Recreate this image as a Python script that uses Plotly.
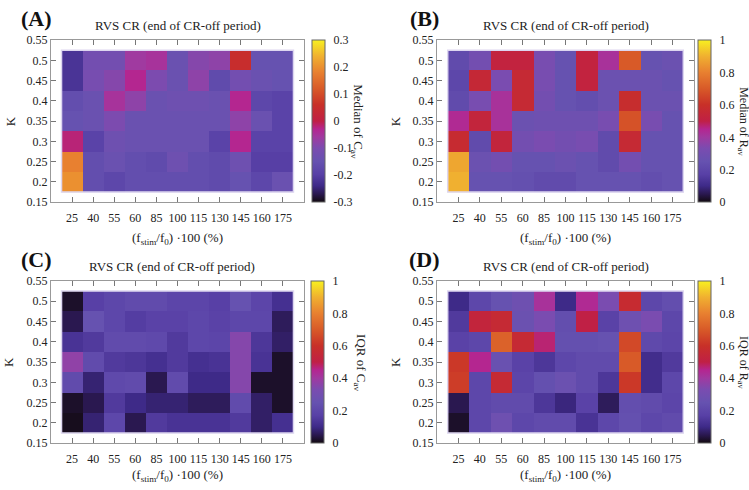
import plotly.graph_objects as go

freq_labels = ["25", "40", "55", "60", "85", "100", "115", "130", "145", "160", "175"]
k_values = [0.5, 0.45, 0.4, 0.35, 0.3, 0.25, 0.2]  # rows top -> bottom
k_ticks = [0.15, 0.2, 0.25, 0.3, 0.35, 0.4, 0.45, 0.5, 0.55]
k_tick_text = ["0.15", "0.2", "0.25", "0.3", "0.35", "0.4", "0.45", "0.5", "0.55"]

# Panel A: median of C_av (rows top -> bottom)
median_c = [
    [-0.22, -0.12, -0.12, -0.06, -0.05, -0.14, -0.09, -0.08, 0.05, -0.15, -0.15],
    [-0.22, -0.11, -0.09, -0.03, -0.10, -0.14, -0.08, -0.17, -0.12, -0.14, -0.15],
    [-0.16, -0.14, -0.05, -0.08, -0.14, -0.13, -0.13, -0.14, -0.03, -0.18, -0.19],
    [-0.15, -0.14, -0.10, -0.14, -0.14, -0.14, -0.14, -0.14, -0.08, -0.14, -0.19],
    [-0.02, -0.19, -0.13, -0.14, -0.14, -0.14, -0.14, -0.19, -0.03, -0.19, -0.19],
    [0.18, -0.16, -0.14, -0.16, -0.17, -0.13, -0.16, -0.17, -0.13, -0.20, -0.20],
    [0.20, -0.16, -0.18, -0.16, -0.16, -0.16, -0.16, -0.17, -0.15, -0.18, -0.14],
]
# Panel B: median of R_av
median_r = [
    [0.22, 0.30, 0.52, 0.52, 0.32, 0.25, 0.52, 0.42, 0.70, 0.25, 0.27],
    [0.20, 0.55, 0.33, 0.56, 0.32, 0.25, 0.52, 0.27, 0.27, 0.27, 0.25],
    [0.22, 0.32, 0.42, 0.56, 0.30, 0.25, 0.23, 0.27, 0.58, 0.27, 0.27],
    [0.44, 0.53, 0.42, 0.27, 0.28, 0.28, 0.28, 0.32, 0.68, 0.32, 0.25],
    [0.57, 0.22, 0.53, 0.30, 0.33, 0.30, 0.32, 0.22, 0.56, 0.25, 0.25],
    [0.88, 0.27, 0.30, 0.25, 0.25, 0.27, 0.25, 0.22, 0.30, 0.25, 0.25],
    [0.90, 0.25, 0.25, 0.24, 0.22, 0.22, 0.25, 0.25, 0.25, 0.23, 0.25],
]
# Panel C: IQR of C_av
iqr_c = [
    [0.02, 0.17, 0.20, 0.22, 0.22, 0.19, 0.19, 0.17, 0.25, 0.19, 0.12],
    [0.05, 0.25, 0.20, 0.16, 0.18, 0.18, 0.20, 0.18, 0.20, 0.20, 0.06],
    [0.13, 0.15, 0.22, 0.22, 0.21, 0.15, 0.20, 0.19, 0.35, 0.14, 0.07],
    [0.37, 0.22, 0.15, 0.14, 0.12, 0.15, 0.12, 0.13, 0.35, 0.13, 0.02],
    [0.22, 0.08, 0.21, 0.22, 0.05, 0.22, 0.10, 0.10, 0.35, 0.02, 0.02],
    [0.02, 0.05, 0.15, 0.10, 0.08, 0.08, 0.06, 0.06, 0.22, 0.07, 0.02],
    [0.01, 0.08, 0.20, 0.05, 0.15, 0.13, 0.13, 0.13, 0.15, 0.07, 0.12],
]
# Panel D: IQR of R_av
iqr_r = [
    [0.10, 0.20, 0.25, 0.28, 0.42, 0.10, 0.44, 0.33, 0.57, 0.20, 0.23],
    [0.15, 0.53, 0.56, 0.27, 0.33, 0.23, 0.50, 0.18, 0.28, 0.33, 0.20],
    [0.18, 0.20, 0.72, 0.56, 0.47, 0.24, 0.24, 0.25, 0.66, 0.21, 0.19],
    [0.62, 0.45, 0.26, 0.18, 0.14, 0.20, 0.22, 0.22, 0.70, 0.11, 0.15],
    [0.63, 0.20, 0.56, 0.19, 0.24, 0.27, 0.22, 0.14, 0.62, 0.11, 0.20],
    [0.05, 0.20, 0.22, 0.22, 0.14, 0.09, 0.18, 0.06, 0.23, 0.22, 0.19],
    [0.02, 0.20, 0.28, 0.20, 0.22, 0.22, 0.13, 0.20, 0.24, 0.20, 0.22],
]

cbar_c_ticks = [-0.3, -0.2, -0.1, 0, 0.1, 0.2, 0.3]
cbar_c_text = ["-0.3", "-0.2", "-0.1", "0", "0.1", "0.2", "0.3"]
cbar_r_ticks = [0, 0.2, 0.4, 0.6, 0.8, 1]
cbar_r_text = ["0", "0.2", "0.4", "0.6", "0.8", "1"]

panel_title = "RVS CR (end of CR-off period)"
x_title = "(f<sub>stim</sub>/f<sub>0</sub>) ·100 (%)"

palette = [
    [0.0, "#120a10"], [0.05, "#2a1850"], [0.10, "#3e2a88"], [0.17, "#5840a6"],
    [0.25, "#6652b0"], [0.33, "#7a4cb0"], [0.40, "#a03aa0"], [0.45, "#b42690"],
    [0.50, "#c02045"], [0.60, "#c83028"], [0.70, "#d85a28"], [0.80, "#e88030"],
    [0.90, "#f0b030"], [1.0, "#f8f020"],
]

W, H = 749, 490
FONT = "Liberation Serif, Times New Roman, serif"

panels = [
    dict(z=median_c, zmin=-0.3, zmax=0.3, ct=cbar_c_ticks, ctt=cbar_c_text,
         cbt="Median of C<sub>av</sub>", label="(A)", cbs=13,
         px=(51, 304), py=(34, 201), cbx=312, cbtx=358, lx=36, tx=178, ktx=10, xty=238),
    dict(z=median_r, zmin=0, zmax=1, ct=cbar_r_ticks, ctt=cbar_r_text,
         cbt="Median of R<sub>av</sub>", label="(B)", cbs=12,
         px=(437, 694), py=(34, 201), cbx=698, cbtx=743, lx=424, tx=566, ktx=395, xty=238),
    dict(z=iqr_c, zmin=0, zmax=1, ct=cbar_r_ticks, ctt=cbar_r_text,
         cbt="IQR of C<sub>av</sub>", label="(C)", cbs=13,
         px=(51, 304), py=(282, 449), cbx=311, cbtx=361, lx=36, tx=172, ktx=8, xty=482),
    dict(z=iqr_r, zmin=0, zmax=1, ct=cbar_r_ticks, ctt=cbar_r_text,
         cbt="IQR of R<sub>av</sub>", label="(D)", cbs=12,
         px=(437, 694), py=(282, 449), cbx=698, cbtx=743, lx=424, tx=566, ktx=395, xty=482),
]

fig = go.Figure()
annotations = []
shapes = []
nx = len(freq_labels)
x_idx = list(range(nx))
k_asc = k_values[::-1]

for i, p in enumerate(panels, start=1):
    xa = "x" if i == 1 else f"x{i}"
    ya = "y" if i == 1 else f"y{i}"
    z_asc = p["z"][::-1]
    y0 = 1 - p["py"][1] / H
    y1 = 1 - p["py"][0] / H
    fig.add_trace(go.Heatmap(
        x=x_idx, y=k_asc, z=z_asc, xaxis=xa, yaxis=ya,
        zmin=p["zmin"], zmax=p["zmax"], colorscale=palette, hoverinfo="skip",
        colorbar=dict(
            x=p["cbx"] / W, xanchor="left", xref="paper", xpad=0, ypad=0,
            y=(y0 + y1) / 2, yanchor="middle", len=(y1 - y0), lenmode="fraction",
            thickness=13, outlinewidth=1, outlinecolor="#666",
            tickvals=p["ct"], ticktext=p["ctt"], ticks="outside", ticklen=6,
            tickcolor="rgba(0,0,0,0)", tickfont=dict(family=FONT, size=12, color="#222"),
        ),
    ))
    axis_common = dict(showline=True, linecolor="#999", linewidth=1, mirror="allticks",
                       ticks="inside", ticklen=5, tickcolor="#777", showgrid=False,
                       zeroline=False, tickfont=dict(family=FONT, size=12, color="#222"))
    fig.update_layout(**{
        ("xaxis" if i == 1 else f"xaxis{i}"): dict(
            domain=[p["px"][0] / W, p["px"][1] / W], anchor=ya, range=[-1, nx],
            tickvals=x_idx, ticktext=freq_labels, ticklabelstandoff=4, **axis_common),
        ("yaxis" if i == 1 else f"yaxis{i}"): dict(
            domain=[y0, y1], anchor=xa, range=[0.15, 0.55],
            tickvals=k_ticks, ticktext=k_tick_text, **axis_common),
    })
    # light border around the heatmap cells
    shapes.append(dict(type="rect", xref=xa, yref=ya,
                       x0=-0.5, x1=nx - 0.5,
                       y0=k_asc[0] - 0.025, y1=k_asc[-1] + 0.025,
                       line=dict(color="#ddd6f0", width=1.5)))
    cy = (p["py"][0] + p["py"][1]) / 2
    annotations += [
        dict(text="<b>" + p["label"] + "</b>", x=p["lx"] / W, y=1 - (p["py"][0] - 22) / H,
             xref="paper", yref="paper", showarrow=False,
             font=dict(family=FONT, size=22, color="#111"), xanchor="center", yanchor="middle"),
        dict(text=panel_title, x=p["tx"] / W, y=1 - (p["py"][0] - 15) / H,
             xref="paper", yref="paper", showarrow=False,
             font=dict(family=FONT, size=13, color="#222"), xanchor="center", yanchor="middle"),
        dict(text=x_title, x=(p["px"][0] + p["px"][1]) / 2 / W, y=1 - p["xty"] / H,
             xref="paper", yref="paper", showarrow=False,
             font=dict(family=FONT, size=13, color="#222"), xanchor="center", yanchor="middle"),
        dict(text="K", x=p["ktx"] / W, y=1 - cy / H, textangle=-90,
             xref="paper", yref="paper", showarrow=False,
             font=dict(family=FONT, size=13, color="#222"), xanchor="center", yanchor="middle"),
        dict(text=p["cbt"], x=p["cbtx"] / W, y=1 - cy / H, textangle=90,
             xref="paper", yref="paper", showarrow=False,
             font=dict(family=FONT, size=p["cbs"], color="#222"), xanchor="center", yanchor="middle"),
    ]

fig.update_layout(
    width=W, height=H, margin=dict(l=0, r=0, t=0, b=0),
    paper_bgcolor="white", plot_bgcolor="white",
    annotations=annotations, shapes=shapes,
    font=dict(family=FONT, size=12, color="#222"),
)

fig.write_html("out.html", config={"displayModeBar": False},
               post_script="document.body.style.margin='0px';document.body.style.overflow='hidden';")
